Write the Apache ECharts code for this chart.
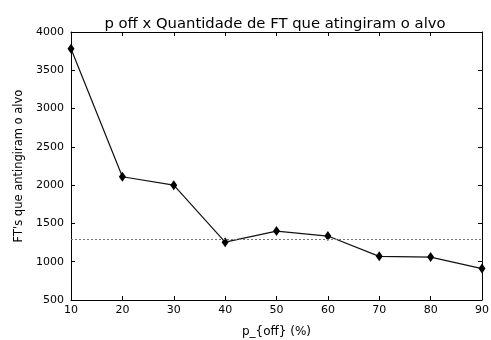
<!DOCTYPE html>
<html><head><meta charset="utf-8">
<script src="https://cdn.jsdelivr.net/npm/echarts@6/dist/echarts.min.js"></script>
<style>html,body{margin:0;padding:0;background:#fff}#c{width:491px;height:340px}</style>
</head><body><div id="c"></div>
<script>
const pOff = [10, 20, 30, 40, 50, 60, 70, 80, 90];
const ftHits = [3780, 2110, 2000, 1255, 1400, 1335, 1070, 1060, 910];
const refLevel = 1290;
const titleText = 'p off x Quantidade de FT que atingiram o alvo';
const xName = 'p_{off} (%)';
const yName = "FT's que antingiram o alvo";

const font = 'DejaVu Sans';
const chart = echarts.init(document.getElementById('c'), null, {renderer: 'canvas'});
const tickStyle = {show: true, inside: true, length: 4, lineStyle: {color: '#000', width: 1}};
chart.setOption({
  animation: false,
  backgroundColor: '#fff',
  title: {text: titleText, left: 270, top: 12, textAlign: 'center',
    textStyle: {fontFamily: font, fontSize: 14.8, fontWeight: 'normal', color: '#000'}},
  grid: {left: 71, right: 9, top: 32, bottom: 40, show: false,
    containLabel: false, outerBoundsMode: 'none'},
  xAxis: [{
    type: 'value', min: 10, max: 90, interval: 10, position: 'bottom',
    name: xName, nameLocation: 'middle', nameGap: 26,
    nameTextStyle: {fontFamily: font, fontSize: 12, color: '#000'},
    axisLine: {show: true, lineStyle: {color: '#000', width: 1}},
    axisTick: tickStyle, splitLine: {show: false},
    axisLabel: {fontFamily: font, fontSize: 11, color: '#000', margin: 5}
  }, {
    type: 'value', min: 10, max: 90, interval: 10, position: 'top',
    axisLine: {show: true, lineStyle: {color: '#000', width: 1}},
    axisTick: tickStyle, splitLine: {show: false}, axisLabel: {show: false}
  }],
  yAxis: [{
    type: 'value', min: 500, max: 4000, interval: 500, position: 'left',
    name: yName, nameLocation: 'middle', nameGap: 44, nameRotate: 90,
    nameTextStyle: {fontFamily: font, fontSize: 11.5, color: '#000'},
    axisLine: {show: true, lineStyle: {color: '#000', width: 1}},
    axisTick: tickStyle, splitLine: {show: false},
    axisLabel: {fontFamily: font, fontSize: 11, color: '#000', margin: 7,
      formatter: v => String(v)}
  }, {
    type: 'value', min: 500, max: 4000, interval: 500, position: 'right',
    axisLine: {show: true, lineStyle: {color: '#000', width: 1}},
    axisTick: tickStyle, splitLine: {show: false}, axisLabel: {show: false}
  }],
  series: [{
    type: 'line',
    data: pOff.map((x, i) => [x, ftHits[i]]),
    lineStyle: {color: '#111', width: 1.2},
    itemStyle: {color: '#000'},
    symbol: 'path://M5,0 L10,7 L5,14 L0,7 Z',
    symbolSize: [7, 10],
    clip: false,
    markLine: {
      silent: true, symbol: 'none', label: {show: false},
      lineStyle: {color: '#777', width: 1, type: [2, 2]},
      data: [{yAxis: refLevel}]
    }
  }]
});
</script></body></html>
